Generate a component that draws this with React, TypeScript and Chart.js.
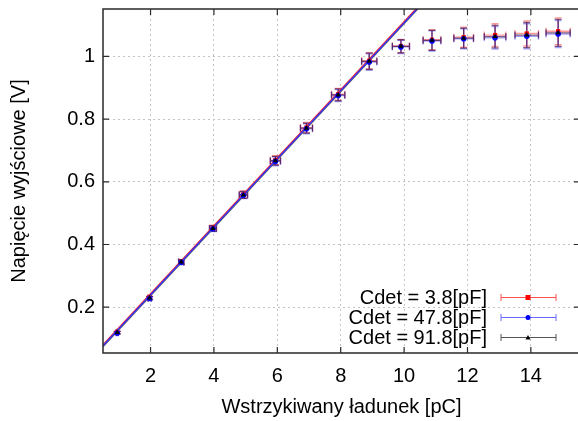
import React, { useEffect, useRef } from 'react';
import { Chart, registerables } from 'chart.js';

Chart.register(...registerables);

// ---- data ----
const xValues = [0.95, 1.97, 2.97, 3.97, 4.93, 5.94, 6.92, 7.92, 8.9, 9.9, 10.88, 11.88, 12.87, 13.87, 14.86];
const yRed = [0.12, 0.23, 0.345, 0.453, 0.56, 0.669, 0.773, 0.879, 0.986, 1.033, 1.053, 1.061, 1.068, 1.073, 1.08];
const yBlue = [0.118, 0.228, 0.343, 0.45, 0.557, 0.665, 0.769, 0.875, 0.982, 1.03, 1.049, 1.056, 1.059, 1.064, 1.071];
const yBlack = [0.119, 0.229, 0.344, 0.451, 0.558, 0.667, 0.771, 0.877, 0.984, 1.032, 1.051, 1.058, 1.063, 1.068, 1.075];
const xErr = [0.03, 0.05, 0.08, 0.11, 0.13, 0.16, 0.19, 0.21, 0.24, 0.27, 0.28, 0.31, 0.34, 0.37, 0.38];
const yErr = [0.004, 0.005, 0.007, 0.009, 0.011, 0.014, 0.016, 0.019, 0.026, 0.021, 0.032, 0.032, 0.036, 0.04, 0.043];

const fitX = [0.5, 10.6];
const fitRed = [0.081, 1.176];
const fitBlue = [0.077, 1.172];
const fitBlack = [0.074, 1.169];

const xTicks = [2, 4, 6, 8, 10, 12, 14];
const yTicks = [0.2, 0.4, 0.6, 0.8, 1];
const seriesLabels = ['Cdet = 3.8[pF]', 'Cdet = 47.8[pF]', 'Cdet = 91.8[pF]'];
const xTitle = 'Wstrzykiwany ładunek [pC]';
const yTitle = 'Napięcie wyjściowe [V]';

const FONT = '"Liberation Sans", Arial, sans-serif';

const series = [
  { ys: yRed, bar: 'rgba(255,70,70,0.55)', point: '#ff0000', style: 'rect' },
  { ys: yBlue, bar: 'rgba(70,70,255,0.5)', point: '#0000ff', style: 'circle' },
  { ys: yBlack, bar: 'rgba(60,0,60,0.65)', point: '#000000', style: 'triangle' },
];

function drawMarker(ctx: CanvasRenderingContext2D, style: string, x: number, y: number, color: string) {
  ctx.fillStyle = color;
  ctx.beginPath();
  if (style === 'rect') {
    ctx.rect(x - 2.5, y - 2.5, 5, 5);
  } else if (style === 'circle') {
    ctx.arc(x, y, 2.5, 0, Math.PI * 2);
  } else {
    ctx.moveTo(x, y - 2.5);
    ctx.lineTo(x + 2.5, y + 2);
    ctx.lineTo(x - 2.5, y + 2);
    ctx.closePath();
  }
  ctx.fill();
}

const gnuplotPlugin = {
  id: 'gnuplotLook',
  beforeDatasetsDraw(chart: any) {
    const { ctx, chartArea, scales } = chart;
    const xs = scales.x;
    const ysc = scales.y;
    ctx.save();
    ctx.beginPath();
    ctx.rect(chartArea.left, chartArea.top, chartArea.right - chartArea.left, chartArea.bottom - chartArea.top);
    ctx.clip();
    const cap = 3.5;
    series.forEach((s) => {
      ctx.strokeStyle = s.bar;
      ctx.lineWidth = 1.3;
      xValues.forEach((xv, i) => {
        const yv = s.ys[i];
        const px = xs.getPixelForValue(xv);
        const py = ysc.getPixelForValue(yv);
        const x1 = xs.getPixelForValue(xv - xErr[i]);
        const x2 = xs.getPixelForValue(xv + xErr[i]);
        const y1 = ysc.getPixelForValue(yv - yErr[i]);
        const y2 = ysc.getPixelForValue(yv + yErr[i]);
        ctx.beginPath();
        ctx.moveTo(x1, py); ctx.lineTo(x2, py);
        ctx.moveTo(x1, py - cap); ctx.lineTo(x1, py + cap);
        ctx.moveTo(x2, py - cap); ctx.lineTo(x2, py + cap);
        ctx.moveTo(px, y1); ctx.lineTo(px, y2);
        ctx.moveTo(px - cap, y1); ctx.lineTo(px + cap, y1);
        ctx.moveTo(px - cap, y2); ctx.lineTo(px + cap, y2);
        ctx.stroke();
      });
    });
    ctx.restore();
  },
  afterDraw(chart: any) {
    const { ctx, chartArea, scales } = chart;
    const { left, right, top, bottom } = chartArea;
    ctx.save();
    // frame
    ctx.strokeStyle = '#2a2a2a';
    ctx.lineWidth = 1.5;
    ctx.beginPath();
    ctx.rect(left, top, right - left, bottom - top);
    ctx.stroke();
    // inward ticks on all four sides
    ctx.lineWidth = 1.2;
    const tl = 6;
    ctx.beginPath();
    scales.x.ticks.forEach((t: any) => {
      const px = scales.x.getPixelForValue(t.value);
      ctx.moveTo(px, bottom); ctx.lineTo(px, bottom - tl);
      ctx.moveTo(px, top); ctx.lineTo(px, top + tl);
    });
    scales.y.ticks.forEach((t: any) => {
      const py = scales.y.getPixelForValue(t.value);
      ctx.moveTo(left, py); ctx.lineTo(left + tl, py);
      ctx.moveTo(right, py); ctx.lineTo(right - tl, py);
    });
    ctx.stroke();

    // legend (gnuplot style, bottom right inside the plot)
    const textRight = 487;
    const sx1 = 501;
    const sx2 = 556;
    const sxm = 528;
    const rows = [297.5, 317.5, 337.5];
    const lineColors = ['#ff5050', '#6a6aff', '#555555'];
    ctx.font = `20px ${FONT}`;
    ctx.textAlign = 'right';
    ctx.textBaseline = 'middle';
    seriesLabels.forEach((label, i) => {
      const yy = rows[i];
      ctx.fillStyle = '#000';
      ctx.fillText(label, textRight, yy + 1);
      ctx.strokeStyle = lineColors[i];
      ctx.lineWidth = 1;
      ctx.beginPath();
      ctx.moveTo(sx1, yy); ctx.lineTo(sx2, yy);
      ctx.moveTo(sx1, yy - 3.5); ctx.lineTo(sx1, yy + 3.5);
      ctx.moveTo(sx2, yy - 3.5); ctx.lineTo(sx2, yy + 3.5);
      ctx.stroke();
      drawMarker(ctx, series[i].style, sxm, yy, series[i].point);
    });
    ctx.restore();
  },
};

export default function App() {
  const canvasRef = useRef<HTMLCanvasElement | null>(null);

  useEffect(() => {
    document.body.style.margin = '0';
    document.body.style.overflow = 'hidden';
    const canvas = canvasRef.current;
    if (!canvas) return;

    const toPts = (ys: number[]) => xValues.map((x, i) => ({ x, y: ys[i] }));
    const toLine = (ys: number[]) => fitX.map((x, i) => ({ x, y: ys[i] }));

    const chart = new Chart(canvas, {
      type: 'scatter',
      data: {
        datasets: [
          { label: seriesLabels[2], data: toPts(yBlack), pointStyle: 'triangle', pointRadius: 3, backgroundColor: '#000', borderWidth: 0 },
          { label: seriesLabels[1], data: toPts(yBlue), pointStyle: 'circle', pointRadius: 2.8, backgroundColor: '#0000ff', borderWidth: 0 },
          { label: seriesLabels[0], data: toPts(yRed), pointStyle: 'rect', pointRadius: 3, backgroundColor: '#ff0000', borderWidth: 0 },
          { label: 'fit2', data: toLine(fitBlue), showLine: true, pointRadius: 0, borderColor: '#3030ff', borderWidth: 1.3 },
          { label: 'fit3', data: toLine(fitBlack), showLine: true, pointRadius: 0, borderColor: '#606060', borderWidth: 1.2 },
          { label: 'fit1', data: toLine(fitRed), showLine: true, pointRadius: 0, borderColor: '#ff2020', borderWidth: 1.2 },
        ] as any,
      },
      options: {
        responsive: false,
        maintainAspectRatio: false,
        devicePixelRatio: 1,
        animation: false,
        layout: { padding: { top: 9, right: 3, left: 0, bottom: 0 } },
        plugins: { legend: { display: false }, tooltip: { enabled: false } },
        scales: {
          x: {
            type: 'linear',
            min: 0.5,
            max: 15.55,
            afterBuildTicks: (s: any) => { s.ticks = xTicks.map((v) => ({ value: v })); },
            afterFit: (s: any) => { s.height = 68; s.paddingLeft = 0; s.paddingRight = 0; s.paddingTop = 0; s.paddingBottom = 0; },
            ticks: { font: { family: FONT, size: 20 }, color: '#000', padding: 11, maxRotation: 0, callback: (v: any) => String(v) },
            grid: { color: '#c4c4c4', lineWidth: 1, drawTicks: false },
            border: { display: false, dash: [2, 3] },
            title: { display: true, text: xTitle, color: '#000', font: { family: FONT, size: 20 }, padding: { top: 0, bottom: 2 } },
          },
          y: {
            type: 'linear',
            min: 0.054,
            max: 1.151,
            afterBuildTicks: (s: any) => { s.ticks = yTicks.map((v) => ({ value: v })); },
            afterFit: (s: any) => { s.width = 103; s.paddingLeft = 0; s.paddingRight = 0; s.paddingTop = 0; s.paddingBottom = 0; },
            ticks: { font: { family: FONT, size: 20 }, color: '#000', padding: 8, callback: (v: any) => String(Number(Number(v).toFixed(2))) },
            grid: { color: '#c4c4c4', lineWidth: 1, drawTicks: false },
            border: { display: false, dash: [2, 3] },
            title: { display: true, text: yTitle, color: '#000', font: { family: FONT, size: 20 }, padding: { top: 7, bottom: 0 } },
          },
        },
      },
      plugins: [gnuplotPlugin],
    });
    return () => chart.destroy();
  }, []);

  return (
    <div style={{ width: 578, height: 421, overflow: 'hidden', position: 'relative', background: '#fff' }}>
      <canvas ref={canvasRef} width={584} height={421} style={{ display: 'block', width: 584, height: 421 }} />
    </div>
  );
}
